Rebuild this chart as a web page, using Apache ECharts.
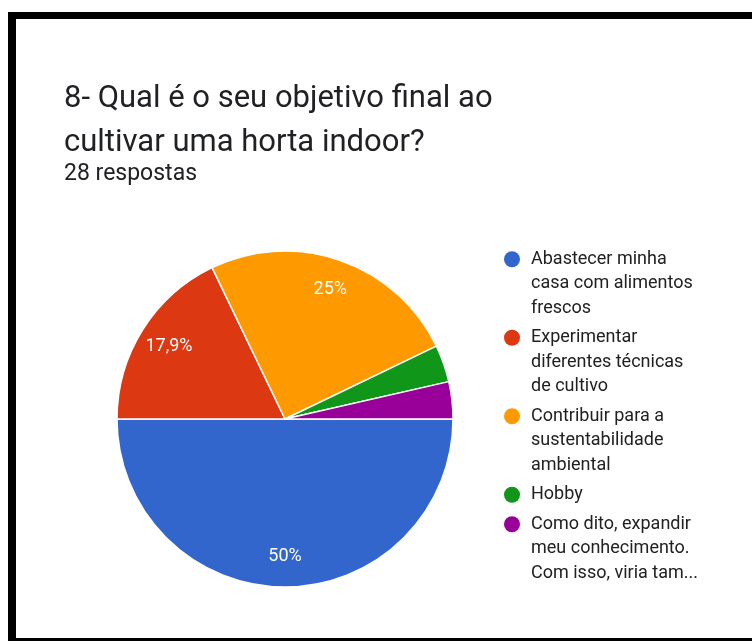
<!DOCTYPE html>
<html>
<head>
<meta charset="utf-8">
<script src="https://cdn.jsdelivr.net/npm/echarts@6/dist/echarts.min.js"></script>
<style>
  html, body { margin: 0; padding: 0; background: #fff; overflow: hidden; }
  #frame { position: absolute; left: 8px; top: 12px; width: 744px; height: 619px;
           border-left: 8px solid #000; border-top: 7px solid #000; border-bottom: 3px solid #000;
           box-sizing: content-box; }
  #chart { position: absolute; left: 0; top: 0; width: 752px; height: 641px; }
</style>
</head>
<body>
<div id="frame"></div>
<div id="chart"></div>
<script>
const titleText = '8- Qual é o seu objetivo final ao\ncultivar uma horta indoor?';
const subtitleText = '28 respostas';
const categories = [
  'Abastecer minha casa com alimentos frescos',
  'Experimentar diferentes técnicas de cultivo',
  'Contribuir para a sustentabilidade ambiental',
  'Hobby',
  'Como dito, expandir meu conhecimento. Com isso, viria tam...'
];
const responses = [14, 5, 7, 1, 1];
const colors = ['#3366cc', '#dc3912', '#ff9900', '#109618', '#990099'];
const legendLines = [
  ['Abastecer minha', 'casa com alimentos', 'frescos'],
  ['Experimentar', 'diferentes técnicas', 'de cultivo'],
  ['Contribuir para a', 'sustentabilidade', 'ambiental'],
  ['Hobby'],
  ['Como dito, expandir', 'meu conhecimento.', 'Com isso, viria tam...']
];

const FONT = 'Roboto, "Noto Sans", sans-serif';
const total = responses.reduce((a, b) => a + b, 0);
const pieData = categories.map((name, i) => ({ name: name, value: responses[i], itemStyle: { color: colors[i] } }));

const rich = {
  t: { fontSize: 18, lineHeight: 24.5, color: '#212121', fontFamily: FONT },
  g: { width: 11, height: 24 },
  s: { width: 27, height: 24 }
};
colors.forEach((c, i) => {
  rich['d' + i] = { width: 16, height: 16, borderRadius: 8, backgroundColor: c };
});

const chart = echarts.init(document.getElementById('chart'), null, { renderer: 'canvas' });
chart.setOption({
  animation: false,
  color: colors,
  title: [
    {
      text: titleText, left: 64, top: 77, padding: 0,
      textStyle: { fontSize: 31, lineHeight: 44, fontWeight: 'normal', color: '#202124', fontFamily: FONT }
    },
    {
      text: subtitleText, left: 64, top: 161, padding: 0,
      textStyle: { fontSize: 23, lineHeight: 26, fontWeight: 'normal', color: '#202124', fontFamily: FONT }
    }
  ],
  legend: {
    orient: 'vertical',
    left: 498, top: 247, padding: 0,
    itemGap: 5,
    itemWidth: 0, itemHeight: 10,
    icon: 'rect',
    itemStyle: { opacity: 0 },
    data: categories,
    selectedMode: false,
    formatter: function (name) {
      const i = categories.indexOf(name);
      return legendLines[i].map((ln, k) => (k === 0 ? '{d' + i + '|}{g|}' : '{s|}') + '{t|' + ln + '}').join('\n');
    },
    textStyle: { rich: rich, lineHeight: 24.5, fontSize: 18, fontFamily: FONT }
  },
  series: [
    {
      type: 'pie',
      center: [285, 419],
      radius: [0, 168],
      startAngle: 0,
      clockwise: true,
      data: pieData,
      label: { show: false },
      labelLine: { show: false },
      itemStyle: { borderColor: '#ffffff', borderWidth: 1.5 },
      emphasis: { disabled: true }
    },
    {
      type: 'pie',
      center: [285, 419],
      radius: [0, 268],
      startAngle: 0,
      clockwise: true,
      silent: true,
      data: categories.map((name, i) => ({ name: name, value: responses[i] })),
      itemStyle: { color: 'rgba(0,0,0,0)', borderWidth: 0 },
      labelLine: { show: false },
      emphasis: { disabled: true },
      label: {
        show: true,
        position: 'inside',
        color: '#ffffff',
        fontSize: 18,
        fontFamily: FONT,
        formatter: function (p) {
          const pct = p.value / total * 100;
          if (pct < 5) return '';
          return String(Math.round(pct * 10) / 10).replace('.', ',') + '%';
        }
      }
    }
  ]
});
</script>
</body>
</html>
